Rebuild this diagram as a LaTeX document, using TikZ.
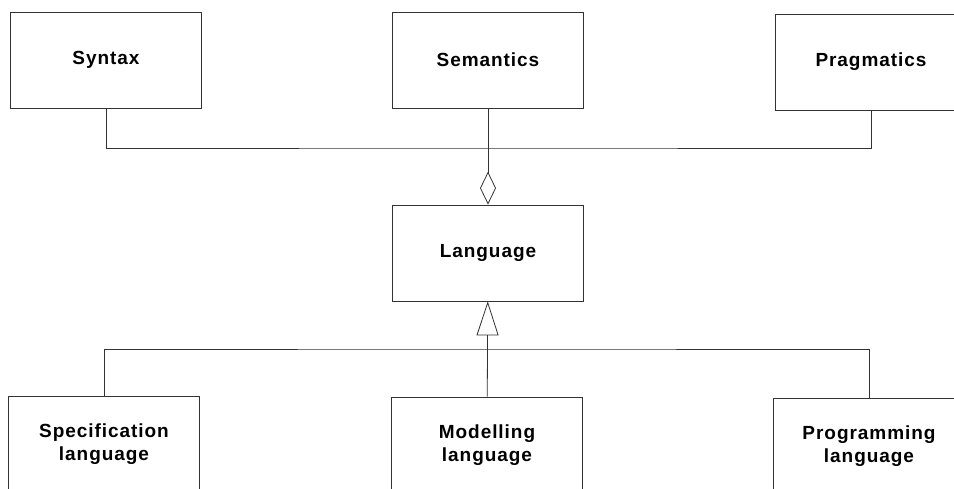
\documentclass[tikz,border=0pt]{standalone}
\usepackage{fontspec}
\setmainfont{Liberation Sans}
\usetikzlibrary{arrows.meta}

\begin{document}
\begin{tikzpicture}[x=1pt,y=-1pt,line width=0.8pt,draw=black!80]
\useasboundingbox (0,0) rectangle (954,488);
\clip (0,0) rectangle (954,488);
\begin{scope}[every node/.style={rectangle,draw=black!80,fill=white,
      minimum width=191pt,minimum height=96pt,inner sep=0pt,align=center,
      font=\fontsize{19}{23}\selectfont\bfseries\addfontfeatures{LetterSpace=5}}]
    \node (syn) at (106, 60) {Syntax};
    \node (sem) at (488, 60) {Semantics};
    \node (prag) at (871, 62) {Pragmatics};

    \node (lang) at (488, 253) {Language};

    \node (spec) at (104, 444) {Specification\\language};
    \node (model) at (487, 445) {Modelling\\language};
    \node (prog) at (869, 446) {Programming\\language};
\end{scope}

\coordinate (partbus) at (488, 148);
\coordinate (kindbus) at (487, 349);

\begin{scope}[every edge/.style={draw=black!80,line width=0.8pt}]
    % whole-part
    \draw (syn) |- (partbus) -| (prag);
    \path [-{Diamond[open,length=33pt,width=16pt]}] (sem) edge (lang);

    % kinds of language
    \draw (spec) |- (kindbus) -| (prog);
    \path [-{Triangle[open,length=34pt,width=22pt]}] (model) edge (lang);
\end{scope}
\end{tikzpicture}
\end{document}
